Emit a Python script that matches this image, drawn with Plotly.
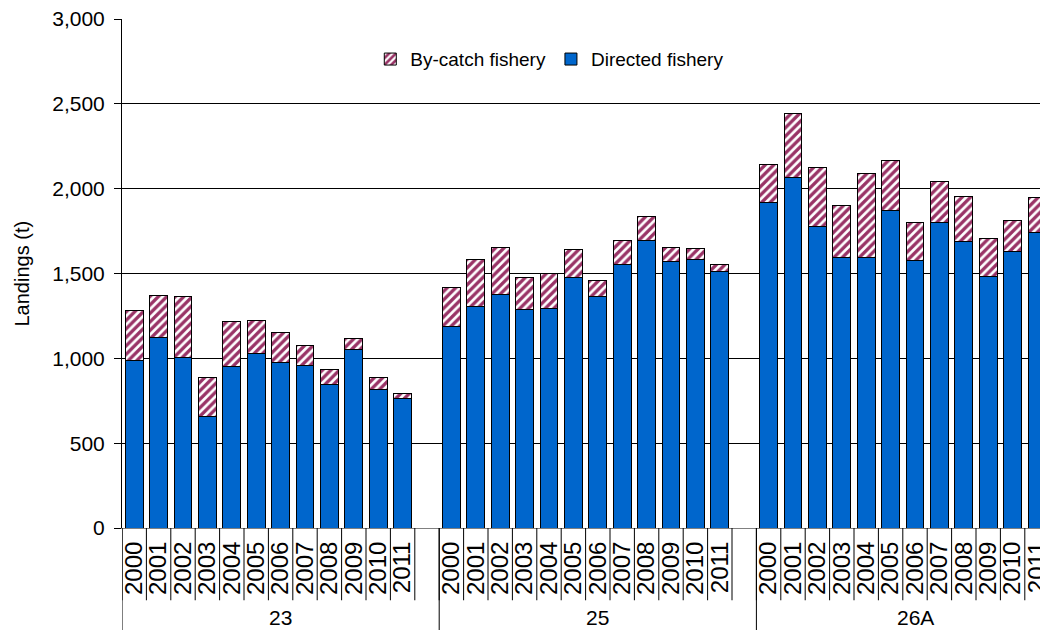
import plotly.graph_objects as go

groups = ["23", "25", "26A"]
years = ["2000", "2001", "2002", "2003", "2004", "2005",
         "2006", "2007", "2008", "2009", "2010", "2011"]

directed = {
    "23":  [990, 1125, 1007, 660, 951, 1028, 977, 960, 847, 1050, 814, 766],
    "25":  [1190, 1303, 1377, 1285, 1295, 1474, 1362, 1551, 1693, 1573, 1581, 1510],
    "26A": [1918, 2066, 1776, 1593, 1593, 1871, 1579, 1802, 1691, 1481, 1628, 1741],
}
bycatch = {
    "23":  [291, 247, 357, 229, 267, 196, 178, 116, 85, 69, 75, 26],
    "25":  [229, 278, 279, 189, 203, 168, 98, 146, 144, 83, 67, 41],
    "26A": [225, 377, 347, 305, 495, 293, 223, 238, 265, 224, 187, 207],
}

FONT = "Liberation Sans, Arial, sans-serif"
slot = len(years) + 1  # one blank category after each group

xs, xlab, dir_vals, by_vals = [], [], [], []
for gi, g in enumerate(groups):
    for j, y in enumerate(years):
        xs.append(gi * slot + j)
        xlab.append(y)
        dir_vals.append(directed[g][j])
        by_vals.append(bycatch[g][j])

fig = go.Figure()
fig.add_trace(go.Bar(
    x=xs, y=dir_vals, name="Directed fishery",
    marker=dict(color="#0066CC", line=dict(color="black", width=1)),
))
fig.add_trace(go.Bar(
    x=xs, y=by_vals, name="By-catch fishery",
    marker=dict(color="white", line=dict(color="black", width=1),
                pattern=dict(shape="/", fgcolor="#993366", bgcolor="white",
                             size=6, solidity=0.55, fillmode="replace")),
))

shapes = []
for gi in range(len(groups)):
    o = gi * slot
    for k in range(len(years) + 1):
        shapes.append(dict(type="line", xref="x", yref="paper",
                           x0=o - 0.5 + k, x1=o - 0.5 + k, y0=0, y1=-0.142,
                           line=dict(color="black", width=1)))
    shapes.append(dict(type="line", xref="x", yref="paper",
                       x0=o - 0.5, x1=o - 0.5, y0=0, y1=-0.25,
                       line=dict(color="black", width=1)))

annotations = []
for gi, g in enumerate(groups):
    annotations.append(dict(x=gi * slot + (slot - 1) / 2, y=-0.175, xref="x", yref="paper",
                            text=g, showarrow=False, xanchor="center", yanchor="middle",
                            font=dict(family=FONT, size=21, color="black")))
annotations.append(dict(x=-0.11, y=0.5, xref="paper", yref="paper", text="Landings (t)",
                        textangle=-90, showarrow=False, xanchor="center", yanchor="middle",
                        font=dict(family=FONT, size=20, color="black")))

fig.update_layout(
    width=1040, height=630,
    margin=dict(l=122, r=0, t=19, b=102),
    paper_bgcolor="white", plot_bgcolor="white",
    barmode="stack", bargap=0.27,
    font=dict(family=FONT, color="black"),
    showlegend=True,
    legend=dict(orientation="h", traceorder="reversed", x=0.466, y=0.921,
                xanchor="center", yanchor="middle", font=dict(family=FONT, size=19),
                bgcolor="rgba(0,0,0,0)"),
    shapes=shapes, annotations=annotations,
)
fig.update_xaxes(
    range=[-0.5, -0.5 + 918 / 24.4], tickmode="array", tickvals=xs, ticktext=xlab,
    tickangle=-90, ticks="", showgrid=False, zeroline=False,
    showline=True, linecolor="#808080", linewidth=1,
    tickfont=dict(family=FONT, size=24, color="black"), ticklabelstandoff=3,
    ticklabeloverflow="allow", automargin=False,
)
fig.update_yaxes(
    range=[0, 3000], dtick=500, tickformat=",d",
    showgrid=True, gridcolor="black", gridwidth=1, zeroline=False,
    showline=True, linecolor="black", linewidth=1,
    ticks="outside", ticklen=7, tickcolor="black",
    tickfont=dict(family=FONT, size=21, color="black"), ticklabelstandoff=5,
    automargin=False,
)

fig.write_html("out.html", config={"displayModeBar": False},
               post_script="document.body.style.margin='0px';")
